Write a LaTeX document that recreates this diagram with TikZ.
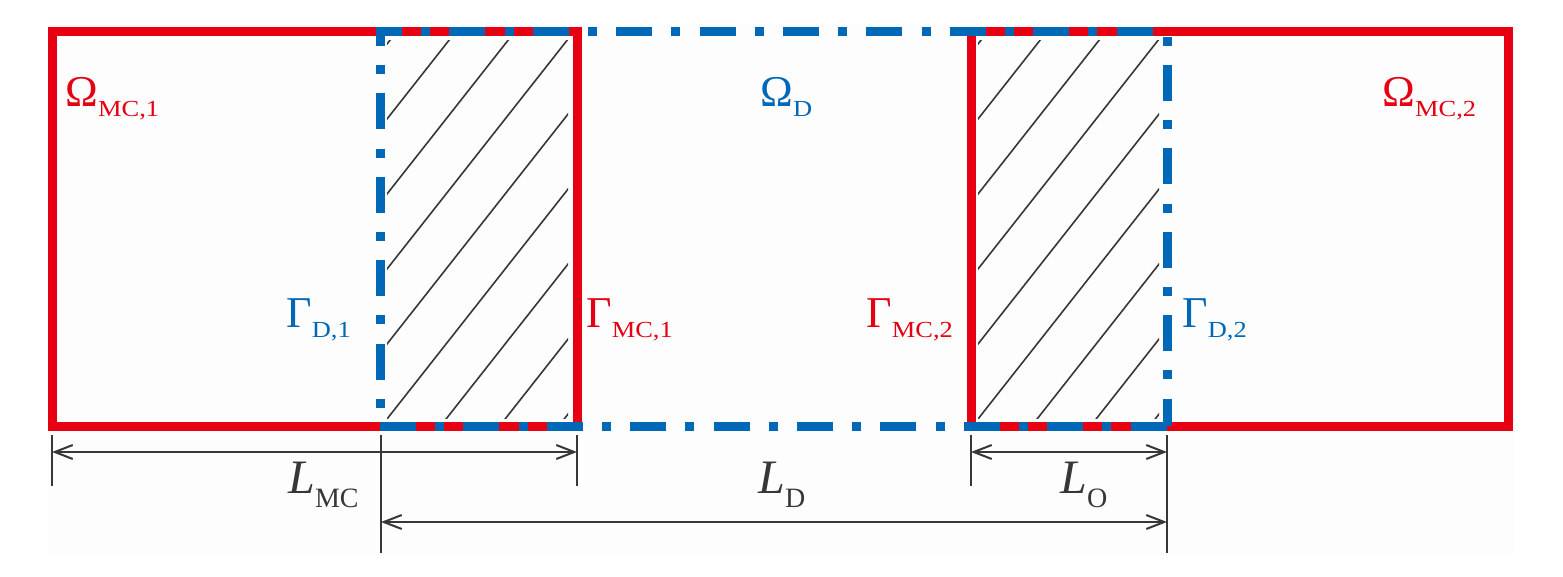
\documentclass[tikz,border=0pt]{standalone}
\usepackage{fontspec}
\setmainfont{Liberation Serif}
\usetikzlibrary{arrows.meta}
\definecolor{mcred}{RGB}{230,0,18}
\definecolor{dblue}{RGB}{0,104,183}
\definecolor{dimgray}{RGB}{55,55,55}
% symbol with a small upright subscript
\newcommand{\symb}[2]{{\fontsize{22}{22}\selectfont #1}\raisebox{-5pt}{\scalebox{1.15}[1]{\fontsize{11.5}{11.5}\selectfont #2}}}
\newcommand{\lensymb}[2]{{\fontsize{24}{24}\selectfont\itshape #1}\raisebox{-7pt}{\fontsize{14}{14}\selectfont #2}}
\tikzset{
	mcline/.style={draw=mcred, line width=4.5pt, line join=miter},
	dline/.style={draw=dblue, line width=4.5pt, dash pattern=on 18pt off 9.6pt on 4.5pt off 9.6pt},
	hatch/.style={draw=dimgray, line width=0.8pt},
	dimline/.style={draw=dimgray, line width=1pt},
	dimarrow/.style={dimline, {Straight Barb[length=9pt,width=7pt]}-{Straight Barb[length=9pt,width=7pt]}},
	lbl/.style={inner sep=0pt, anchor=base west}
}
\begin{document}
\begin{tikzpicture}[x=0.5pt,y=-0.5pt]
				\useasboundingbox (0,0) rectangle (1563,577);
				\fill[black!0.6] (48,25) rectangle (1515,553);

				\pgfmathsetmacro\YT{32}
				\pgfmathsetmacro\YB{426}
				\coordinate (B1) at (380,\YB);
				\coordinate (B2) at (380,\YT);
				\coordinate (B3) at (1167,\YT);
				\coordinate (B4) at (1167,\YB);

				% hatched overlap zones
				\foreach \dx in {0,591}{
					\begin{scope}
						\clip (387+\dx,41) rectangle (568+\dx,418);
						\foreach \k in {0,...,8}
							\draw[hatch] (87+\dx,44+75*\k+381) -- (687+\dx,44+75*\k-381);
					\end{scope}
				}

				\draw[mcline] (52,\YT) rectangle (577,\YB);
				\draw[mcline] (971,\YT) rectangle (1508,\YB);
				\draw[dline, dash phase=18.5pt] (B1) -- (B2) -- (B3) -- (B4);
				\draw[dline] (B1) -- (B4);

				\node[lbl, text=mcred] (omMCa) at (65,107) {\symb{Ω}{MC,1}};
				\node[lbl, text=dblue] (omD) at (760,107) {\symb{Ω}{D}};
				\node[lbl, text=mcred] (omMCb) at (1382,107) {\symb{Ω}{MC,2}};
				\node[lbl, text=dblue] (gaDa) at (286,328) {\symb{Γ}{D,1}};
				\node[lbl, text=mcred] (gaMCa) at (586,328) {\symb{Γ}{MC,1}};
				\node[lbl, text=mcred] (gaMCb) at (866,328) {\symb{Γ}{MC,2}};
				\node[lbl, text=dblue] (gaDb) at (1182,328) {\symb{Γ}{D,2}};

				% dimensions
				\foreach \x/\yb in {52/486,577/486,381/553,971/486,1167/553}
					\draw[dimline] (\x,435) -- (\x,\yb);
				\coordinate (LMCa) at (52,452);
				\coordinate (LMCb) at (577,452);
				\coordinate (LOa) at (971,452);
				\coordinate (LOb) at (1167,452);
				\coordinate (LDa) at (381,522);
				\coordinate (LDb) at (1167,522);
				\draw[dimarrow] (LMCa) -- (LMCb);
				\draw[dimarrow] (LOa) -- (LOb);
				\draw[dimarrow] (LDa) -- (LDb);
				\node[lbl, text=dimgray] (lenMC) at (288,493) {\lensymb{L}{MC}};
				\node[lbl, text=dimgray] (lenD) at (758,493) {\lensymb{L}{D}};
				\node[lbl, text=dimgray] (lenO) at (1060,493) {\lensymb{L}{O}};
\end{tikzpicture}
\end{document}
